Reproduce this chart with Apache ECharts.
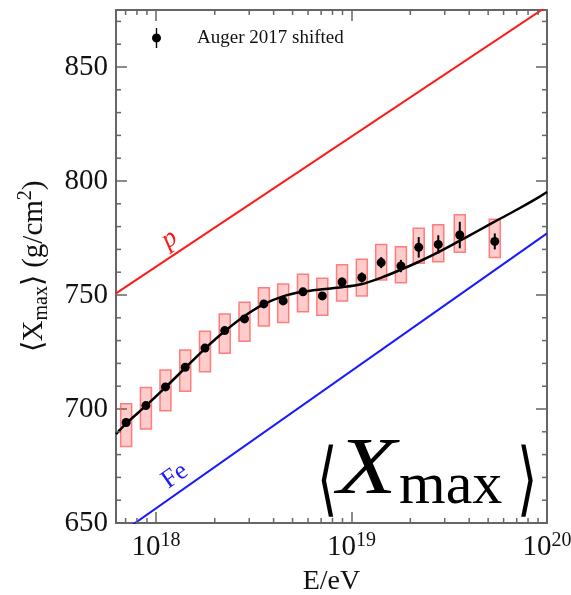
<!DOCTYPE html>
<html>
<head>
<meta charset="utf-8">
<script src="https://cdn.jsdelivr.net/npm/echarts@6/dist/echarts.min.js"></script>
<style>
  html, body { margin: 0; padding: 0; background: #fff; }
  #chart { width: 571px; height: 595px; }
</style>
</head>
<body>
<div id="chart"></div>
<script>
// Auger 2017 <Xmax> (shifted): bin energies as log10(E/eV), mean Xmax in g/cm^2
const logEnergy = [17.848, 17.949, 18.049, 18.150, 18.251, 18.352, 18.453, 18.552, 18.651, 18.752,
                   18.851, 18.952, 19.053, 19.152, 19.253, 19.344, 19.444, 19.554, 19.733];
const xmaxMean  = [694.1, 701.5, 709.7, 718.3, 726.7, 734.4, 739.5, 746.1, 747.4, 751.4,
                   749.6, 755.7, 757.7, 764.2, 762.7, 770.9, 772.2, 776.3, 773.5];
const statErr   = [1.0, 1.0, 1.0, 1.0, 1.0, 1.1, 1.2, 1.3, 1.4, 1.5,
                   1.7, 1.9, 2.2, 2.4, 2.7, 4.5, 4.0, 5.8, 3.5];
const sysLow    = [683.6, 691.2, 699.2, 707.8, 716.3, 724.5, 729.7, 736.4, 737.9, 742.6,
                   741.1, 747.4, 749.6, 756.6, 755.4, 763.9, 764.6, 768.7, 766.5];
const sysHigh   = [702.3, 709.4, 717.1, 725.9, 734.1, 741.7, 746.8, 753.2, 754.8, 759.1,
                   757.3, 763.3, 765.7, 772.2, 771.2, 779.3, 780.8, 785.2, 783.2];

// Fitted model curve
const fitLogEnergy = [17.796, 17.85, 17.95, 18.05, 18.15, 18.25, 18.35, 18.45, 18.55, 18.65,
                      18.75, 18.85, 18.95, 19.05, 19.15, 19.25, 19.35, 19.45, 19.55, 19.65,
                      19.75, 19.85, 19.95, 20.0];
const fitXmax     = [689.0, 693.8, 701.5, 709.6, 718.0, 726.4, 734.0, 740.6, 745.9, 749.4,
                     751.4, 752.5, 753.4, 754.7, 757.5, 761.0, 764.8, 769.0, 773.6, 778.3,
                     783.0, 787.6, 792.5, 795.2];

// Pure proton and pure iron expectations
const protonLogEnergy = [17.796, 20.0];
const protonXmax      = [750.7, 876.6];
const ironLogEnergy   = [17.796, 20.0];
const ironXmax        = [644.1, 777.0];

// Axis ranges and minor tick positions
const xRange = [17.796, 20.0];           // log10(E/eV)
const yRange = [650, 875];
const yMajorStep = 50;
const xMinorTicks = [7e17, 8e17, 9e17,
                     2e18, 3e18, 4e18, 5e18, 6e18, 7e18, 8e18, 9e18,
                     2e19, 3e19, 4e19, 5e19, 6e19, 7e19, 8e19, 9e19];
const yMinorTicks = [660, 670, 680, 690, 710, 720, 730, 740, 760, 770, 780, 790,
                     810, 820, 830, 840, 860, 870];

const SERIF = '"Liberation Serif", "Times New Roman", serif';
const AXIS_COLOR = '#666';
const TEXT_COLOR = '#111';

const toE = lg => Math.pow(10, lg);

const points   = logEnergy.map((lg, i) => [toE(lg), xmaxMean[i]]);
const statBars = logEnergy.map((lg, i) => [toE(lg), xmaxMean[i] - statErr[i], xmaxMean[i] + statErr[i]]);
const sysBoxes = logEnergy.map((lg, i) => [toE(lg), sysLow[i], sysHigh[i]]);
const fitLine  = fitLogEnergy.map((lg, i) => [toE(lg), fitXmax[i]]);
const pLine    = protonLogEnergy.map((lg, i) => [toE(lg), protonXmax[i]]);
const feLine   = ironLogEnergy.map((lg, i) => [toE(lg), ironXmax[i]]);

const chart = echarts.init(document.getElementById('chart'), null, { renderer: 'canvas' });

function powerLabel(v) {
  const lg = Math.log10(v);
  const n = Math.round(lg);
  if (Math.abs(lg - n) > 1e-6) return '';
  return '10{sup|' + n + '}';
}

const xAxisBase = {
  type: 'log',
  logBase: 10,
  min: toE(xRange[0]),
  max: toE(xRange[1]),
  axisLine: { show: true, lineStyle: { color: AXIS_COLOR, width: 2 } },
  axisTick: { show: true, inside: true, length: 11, lineStyle: { color: AXIS_COLOR, width: 1.5 } },
  splitLine: { show: false },
  minorTick: { show: false },
  minorSplitLine: { show: false }
};

const yAxisBase = {
  type: 'value',
  min: yRange[0],
  max: yRange[1],
  interval: yMajorStep,
  axisLine: { show: true, lineStyle: { color: AXIS_COLOR, width: 2 } },
  axisTick: { show: true, inside: true, length: 11, lineStyle: { color: AXIS_COLOR, width: 1.5 } },
  splitLine: { show: false }
};

const legendIcon = 'path://M3.3,0 L4.7,0 L4.7,20 L3.3,20 Z M-0.5,10 A4.5,4.5 0 1 1 8.5,10 A4.5,4.5 0 1 1 -0.5,10 Z';

const option = {
  animation: false,
  backgroundColor: '#fff',
  grid: { left: 116, right: 24, top: 10, bottom: 72, containLabel: false, outerBoundsMode: 'none' },
  legend: {
    left: 152,
    top: 28,
    padding: 0,
    itemWidth: 9,
    itemHeight: 20,
    selectedMode: false,
    data: [{ name: 'Auger 2017 shifted', icon: legendIcon }],
    textStyle: { fontFamily: SERIF, fontSize: 19, color: TEXT_COLOR, padding: [0, 0, 0, 31] }
  },
  xAxis: [
    Object.assign({}, xAxisBase, {
      position: 'bottom',
      name: 'E/eV',
      nameLocation: 'middle',
      nameGap: 43,
      nameTextStyle: { fontFamily: SERIF, fontSize: 28, color: TEXT_COLOR },
      axisLabel: {
        show: true,
        margin: 8,
        fontFamily: SERIF,
        fontSize: 29,
        color: TEXT_COLOR,
        lineHeight: 32,
        formatter: powerLabel,
        rich: { sup: { fontFamily: SERIF, fontSize: 20, color: TEXT_COLOR, verticalAlign: 'top', lineHeight: 20 } }
      }
    }),
    Object.assign({}, xAxisBase, { position: 'top', axisLabel: { show: false } })
  ],
  yAxis: [
    Object.assign({}, yAxisBase, {
      position: 'left',
      name: '{n|⟨X}{sub|max}{n|⟩ (g/cm}{sup|2}{n|)}',
      nameLocation: 'middle',
      nameRotate: 90,
      nameGap: 64,
      nameTextStyle: {
        fontFamily: SERIF, fontSize: 29, color: TEXT_COLOR,
        rich: {
          n: { fontFamily: SERIF, fontSize: 29, color: TEXT_COLOR, lineHeight: 36 },
          sub: { fontFamily: SERIF, fontSize: 20, color: TEXT_COLOR, verticalAlign: 'bottom', lineHeight: 20 },
          sup: { fontFamily: SERIF, fontSize: 20, color: TEXT_COLOR, verticalAlign: 'top', lineHeight: 20 }
        }
      },
      axisLabel: { show: true, margin: 8, fontFamily: SERIF, fontSize: 29, color: TEXT_COLOR, showMaxLabel: false }
    }),
    Object.assign({}, yAxisBase, { position: 'right', axisLabel: { show: false } })
  ],
  series: [
    {
      name: 'proton',
      type: 'line',
      data: pLine,
      showSymbol: false,
      clip: true,
      lineStyle: { color: '#ff1a1a', width: 2 },
      silent: true,
      z: 2
    },
    {
      name: 'iron',
      type: 'line',
      data: feLine,
      showSymbol: false,
      clip: true,
      lineStyle: { color: '#1a1aff', width: 2 },
      silent: true,
      z: 2
    },
    {
      name: 'systematics',
      type: 'custom',
      data: sysBoxes,
      encode: { x: 0, y: [1, 2] },
      silent: true,
      z: 3,
      renderItem: function (params, api) {
        const lo = api.coord([api.value(0), api.value(1)]);
        const hi = api.coord([api.value(0), api.value(2)]);
        const w = 11;
        return {
          type: 'rect',
          shape: { x: lo[0] - w / 2, y: hi[1], width: w, height: lo[1] - hi[1] },
          style: { fill: 'rgba(255, 0, 0, 0.2)', stroke: 'rgba(255, 90, 90, 0.75)', lineWidth: 1.5 }
        };
      }
    },
    {
      name: 'fit',
      type: 'line',
      data: fitLine,
      smooth: 0.3,
      showSymbol: false,
      clip: true,
      lineStyle: { color: '#000', width: 2.5 },
      silent: true,
      z: 4
    },
    {
      name: 'stat',
      type: 'custom',
      data: statBars,
      encode: { x: 0, y: [1, 2] },
      silent: true,
      z: 5,
      renderItem: function (params, api) {
        const lo = api.coord([api.value(0), api.value(1)]);
        const hi = api.coord([api.value(0), api.value(2)]);
        return {
          type: 'line',
          shape: { x1: lo[0], y1: lo[1], x2: hi[0], y2: hi[1] },
          style: { stroke: '#000', lineWidth: 2 }
        };
      }
    },
    {
      name: 'Auger 2017 shifted',
      type: 'scatter',
      data: points,
      symbol: 'circle',
      symbolSize: 9,
      itemStyle: { color: '#000', opacity: 1 },
      silent: true,
      z: 6
    },
    {
      name: 'xMinorTicks',
      type: 'custom',
      data: xMinorTicks.map(e => [e, yRange[0]]),
      encode: { x: 0, y: 1 },
      silent: true,
      clip: false,
      z: 7,
      renderItem: function (params, api) {
        const cs = params.coordSys;
        const x = api.coord([api.value(0), yRange[0]])[0];
        const st = { stroke: AXIS_COLOR, lineWidth: 1.5 };
        return {
          type: 'group',
          children: [
            { type: 'line', shape: { x1: x, y1: cs.y + cs.height, x2: x, y2: cs.y + cs.height - 5 }, style: st },
            { type: 'line', shape: { x1: x, y1: cs.y, x2: x, y2: cs.y + 5 }, style: st }
          ]
        };
      }
    },
    {
      name: 'yMinorTicks',
      type: 'custom',
      data: yMinorTicks.map(v => [toE(xRange[0]), v]),
      encode: { x: 0, y: 1 },
      silent: true,
      clip: false,
      z: 7,
      renderItem: function (params, api) {
        const cs = params.coordSys;
        const y = api.coord([toE(xRange[0]), api.value(1)])[1];
        const st = { stroke: AXIS_COLOR, lineWidth: 1.5 };
        return {
          type: 'group',
          children: [
            { type: 'line', shape: { x1: cs.x, y1: y, x2: cs.x + 5, y2: y }, style: st },
            { type: 'line', shape: { x1: cs.x + cs.width, y1: y, x2: cs.x + cs.width - 5, y2: y }, style: st }
          ]
        };
      }
    }
  ],
  graphic: [
    {
      type: 'text', x: 169.5, y: 239, rotation: 0.59, silent: true,
      style: { text: 'p', fontFamily: SERIF, fontStyle: 'italic', fontSize: 27, fill: '#ff1a1a',
               align: 'center', verticalAlign: 'middle', textAlign: 'center', textVerticalAlign: 'middle' }
    },
    {
      type: 'text', x: 175, y: 476, rotation: 0.61, silent: true,
      style: { text: 'Fe', fontFamily: SERIF, fontSize: 26, fill: '#1a1aff',
               align: 'center', verticalAlign: 'middle', textAlign: 'center', textVerticalAlign: 'middle' }
    },
    {
      type: 'text', x: 327, y: 485, scaleY: 1.55, silent: true,
      style: { text: '⟨', fontFamily: SERIF, fontSize: 52, fill: '#000',
               align: 'center', verticalAlign: 'middle', textAlign: 'center', textVerticalAlign: 'middle' }
    },
    {
      type: 'text', x: 337, y: 472, scaleX: 1.22, silent: true,
      style: { text: 'X', fontFamily: SERIF, fontStyle: 'italic', fontSize: 80, fill: '#000',
               align: 'left', verticalAlign: 'middle', textAlign: 'left', textVerticalAlign: 'middle' }
    },
    {
      type: 'text', x: 399, y: 487, silent: true,
      style: { text: 'max', fontFamily: SERIF, fontSize: 60, fill: '#000',
               align: 'left', verticalAlign: 'middle', textAlign: 'left', textVerticalAlign: 'middle' }
    },
    {
      type: 'text', x: 527, y: 485, scaleY: 1.55, silent: true,
      style: { text: '⟩', fontFamily: SERIF, fontSize: 52, fill: '#000',
               align: 'center', verticalAlign: 'middle', textAlign: 'center', textVerticalAlign: 'middle' }
    }
  ]
};

chart.setOption(option);
</script>
</body>
</html>
